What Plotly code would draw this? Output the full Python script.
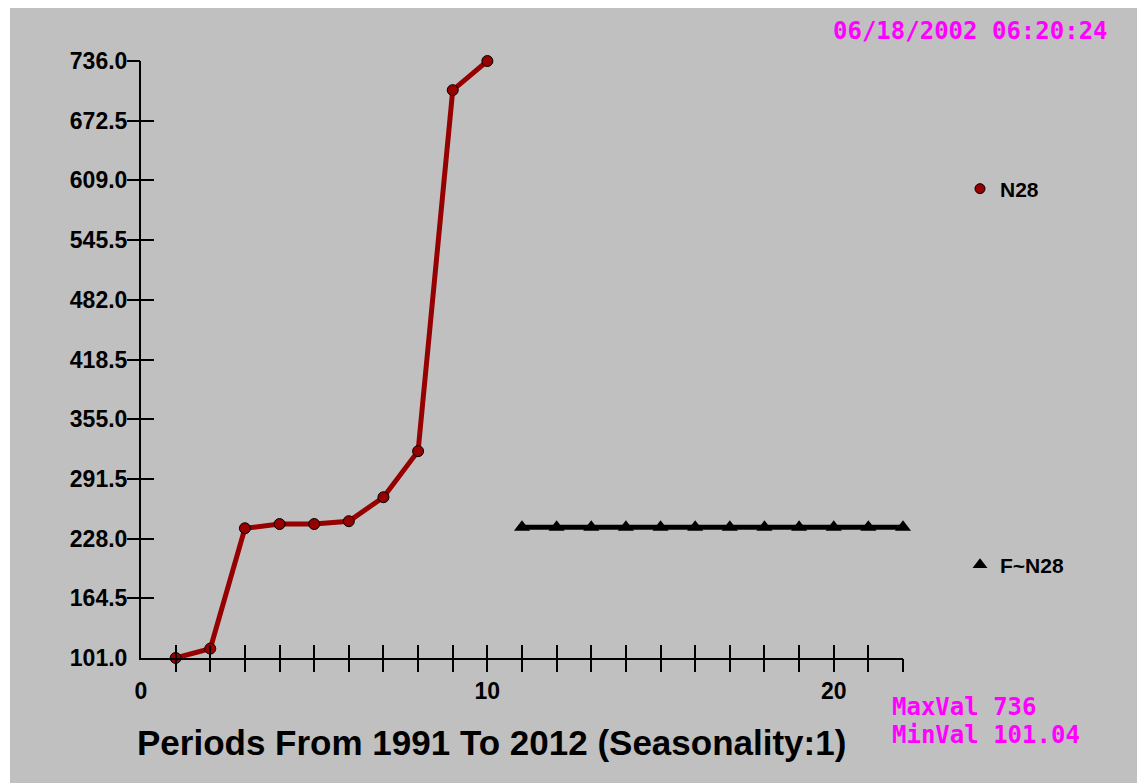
import plotly.graph_objects as go

# ---- data ----
periods = [1, 2, 3, 4, 5, 6, 7, 8, 9, 10]
n28 = [101.04, 111.0, 239.0, 243.5, 243.5, 246.5, 272.0, 321.0, 705.0, 736.0]
forecast_periods = [11, 12, 13, 14, 15, 16, 17, 18, 19, 20, 21, 22]
forecast = [240.0, 240.0, 240.0, 240.0, 240.0, 240.0, 240.0, 240.0, 240.0, 240.0, 240.0, 240.0]
y_ticks = [101.0, 164.5, 228.0, 291.5, 355.0, 418.5, 482.0, 545.5, 609.0, 672.5, 736.0]
x_label_ticks = [0, 10, 20]
x_minor_ticks = list(range(1, 23))

# page has an 8px body margin; figure placed at (8, 8)
OFF = 8
W, H = 1145 - OFF, 783 - OFF
PL, PR, PT, PB = 141, 903, 61, 658          # plot area in page pixels
L, R, T, B = PL - OFF, (W + OFF) - PR, PT - OFF, (H + OFF) - PB
PW = PR - PL
PH = PB - PT

def px(x):
    return (x - PL) / PW

def py(y):
    return (PB - y) / PH

BG = "#C0C0C0"
RED = "#960000"
MAG = "#FF00FF"
lab_font = dict(family="Liberation Sans, Arial", size=23, color="#000000", weight="bold")
leg_font = dict(family="Liberation Sans, Arial", size=21, color="#000000", weight="bold")
mono_font = dict(family="DejaVu Sans Mono, monospace", size=24, color=MAG, weight="bold")

fig = go.Figure()

fig.add_trace(go.Scatter(
    x=periods, y=n28, mode="lines+markers", name="N28",
    line=dict(color=RED, width=5),
    marker=dict(symbol="circle", size=11, color=RED, line=dict(color="#000000", width=1)),
    cliponaxis=False, showlegend=False,
))
fig.add_trace(go.Scatter(
    x=forecast_periods, y=forecast, mode="lines+markers", name="F~N28",
    line=dict(color="#000000", width=5),
    marker=dict(symbol="triangle-up", size=14, color="#000000"),
    cliponaxis=False, showlegend=False,
))
# legend entries (marker only)
fig.add_trace(go.Scatter(
    x=[None], y=[None], mode="markers", name="N28", legend="legend",
    marker=dict(symbol="circle", size=10, color=RED, line=dict(color="#000000", width=1)),
))
fig.add_trace(go.Scatter(
    x=[None], y=[None], mode="markers", name="F~N28", legend="legend2",
    marker=dict(symbol="triangle-up", size=13, color="#000000"),
))

fig.update_layout(
    width=W, height=H,
    margin=dict(l=L, r=R, t=T, b=B, pad=0),
    paper_bgcolor=BG, plot_bgcolor=BG,
    xaxis=dict(
        range=[0, 22], showgrid=False, zeroline=False,
        showline=True, linecolor="#000000", linewidth=2,
        tickmode="array", tickvals=x_label_ticks, ticktext=[str(v) for v in x_label_ticks],
        ticks="outside", ticklen=11, tickcolor="rgba(0,0,0,0)",
        tickfont=lab_font,
    ),
    xaxis2=dict(
        range=[0, 22], overlaying="x", anchor="y", showgrid=False, zeroline=False,
        tickmode="array", tickvals=x_minor_ticks, showticklabels=False,
        ticks="outside", ticklen=13, tickwidth=2, tickcolor="#000000",
    ),
    xaxis3=dict(
        range=[0, 22], overlaying="x", anchor="y", showgrid=False, zeroline=False,
        tickmode="array", tickvals=x_minor_ticks, showticklabels=False,
        ticks="inside", ticklen=13, tickwidth=2, tickcolor="#000000",
    ),
    yaxis=dict(
        range=[101, 736], showgrid=False, zeroline=False,
        showline=True, linecolor="#000000", linewidth=2,
        tickmode="array", tickvals=y_ticks, ticktext=["%.1f" % v for v in y_ticks],
        ticks="outside", ticklen=7, tickcolor="rgba(0,0,0,0)",
        tickfont=lab_font,
    ),
    yaxis2=dict(
        range=[101, 736], overlaying="y", anchor="x", showgrid=False, zeroline=False,
        tickmode="array", tickvals=y_ticks[1:], showticklabels=False,
        ticks="outside", ticklen=13, tickwidth=2, tickcolor="#000000",
    ),
    yaxis3=dict(
        range=[101, 736], overlaying="y", anchor="x", showgrid=False, zeroline=False,
        tickmode="array", tickvals=y_ticks[1:], showticklabels=False,
        ticks="inside", ticklen=13, tickwidth=2, tickcolor="#000000",
    ),
    legend=dict(
        x=px(960), y=py(189), xanchor="left", yanchor="middle",
        bgcolor="rgba(0,0,0,0)", font=leg_font, itemwidth=30,
    ),
    legend2=dict(
        x=px(960), y=py(565), xanchor="left", yanchor="middle",
        bgcolor="rgba(0,0,0,0)", font=leg_font, itemwidth=30,
    ),
)

# attach overlay axes with invisible dummy traces so ticks render
fig.add_trace(go.Scatter(x=[None], y=[None], xaxis="x2", yaxis="y2", showlegend=False, hoverinfo="skip"))
fig.add_trace(go.Scatter(x=[None], y=[None], xaxis="x3", yaxis="y3", showlegend=False, hoverinfo="skip"))

# thin white strip at left edge (page margin supplies the rest)
fig.add_shape(type="rect", xref="paper", yref="paper", x0=px(OFF), x1=px(10), y0=py(H + OFF), y1=py(OFF),
              fillcolor="#FFFFFF", line=dict(width=0), layer="below")

fig.add_annotation(text="06/18/2002 06:20:24", xref="paper", yref="paper",
                   x=px(1110), y=py(31), xanchor="right", yanchor="middle",
                   showarrow=False, font=mono_font)
fig.add_annotation(text="MaxVal 736", xref="paper", yref="paper",
                   x=px(890), y=py(707), xanchor="left", yanchor="middle",
                   showarrow=False, font=mono_font)
fig.add_annotation(text="MinVal 101.04", xref="paper", yref="paper",
                   x=px(890), y=py(735), xanchor="left", yanchor="middle",
                   showarrow=False, font=mono_font)
fig.add_annotation(text="Periods From 1991 To 2012 (Seasonality:1)", xref="paper", yref="paper",
                   x=px(491.5), y=py(742), xanchor="center", yanchor="middle",
                   showarrow=False,
                   font=dict(family="Liberation Sans, Arial", size=35, color="#000000", weight="bold"))

fig.write_html("out.html")
